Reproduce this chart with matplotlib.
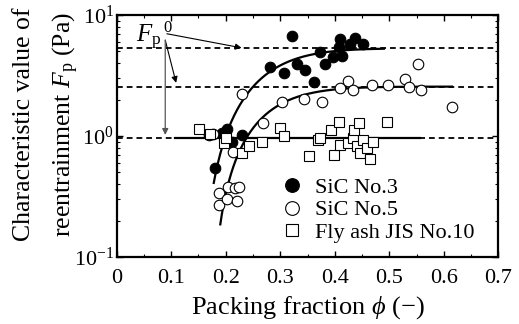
import numpy as np
import matplotlib
matplotlib.use("Agg")
import matplotlib.pyplot as plt

plt.rcParams['font.family'] = ['Liberation Serif', 'DejaVu Serif']
plt.rcParams['mathtext.fontset'] = 'custom'
plt.rcParams['mathtext.rm'] = 'Liberation Serif'
plt.rcParams['mathtext.it'] = 'Liberation Serif:italic'

# ---- data ----
sic3_phi = [0.170, 0.180, 0.193, 0.202, 0.211, 0.229, 0.281, 0.306, 0.321, 0.330,
            0.346, 0.361, 0.373, 0.382, 0.397, 0.407, 0.410, 0.413, 0.428, 0.437, 0.451]
sic3_F = [1.02, 0.54, 1.05, 1.14, 0.90, 1.02, 3.74, 3.34, 6.74, 3.91,
          3.51, 2.81, 4.98, 3.91, 4.52, 5.47, 6.30, 4.58, 5.75, 6.40, 5.75]

sic5_phi = [0.177, 0.188, 0.188, 0.205, 0.202, 0.214, 0.217, 0.221, 0.225, 0.229,
            0.269, 0.303, 0.344, 0.376, 0.410, 0.425, 0.433, 0.468, 0.497, 0.529,
            0.536, 0.553, 0.558, 0.615]
sic5_F = [1.03, 0.336, 0.27, 0.38, 0.30, 0.74, 0.373, 0.29, 0.376, 2.21,
          1.27, 1.92, 2.01, 1.92, 2.48, 2.86, 2.40, 2.64, 2.64, 2.96,
          2.56, 3.93, 2.40, 1.73]

ash_phi = [0.151, 0.171, 0.196, 0.201, 0.230, 0.242, 0.266, 0.299, 0.306, 0.353,
           0.370, 0.373, 0.394, 0.399, 0.408, 0.410, 0.425, 0.434, 0.436, 0.441,
           0.445, 0.446, 0.452, 0.459, 0.465, 0.470, 0.495]
ash_F = [1.14, 1.03, 0.87, 0.96, 0.72, 0.82, 0.90, 1.16, 1.00, 0.68,
         0.93, 0.96, 1.12, 0.69, 1.30, 0.85, 0.87, 0.97, 1.12, 0.82,
         1.27, 0.73, 0.93, 0.79, 0.65, 0.90, 1.30]

# plateau values F_p^0 and fit parameters (phi0, c, n, phi_start, phi_end)
Fp0_sic3 = 5.3
Fp0_sic5 = 2.56
Fp0_ash = 0.97
fit_sic3 = (0.150, 0.129, 1.65, 0.178, 0.49)
fit_sic5 = (0.170, 0.112, 1.50, 0.190, 0.615)
ash_solid = (0.107, 0.557)

labels = ["SiC No.3", "SiC No.5", "Fly ash JIS No.10"]


def model(phi, A, phi0, c, n):
    return A * (1 - np.exp(-((phi - phi0) / c) ** n))


fig = plt.figure(figsize=(5.19, 3.24), dpi=100)
ax = fig.add_axes([0.2249, 0.2068, 0.7352, 0.7469])

dash = (0, (3.2, 2.2))
for F0 in (Fp0_sic3, Fp0_sic5, Fp0_ash):
    ax.plot([0, 0.7], [F0, F0], color='black', lw=1.3, ls=dash, zorder=1)

for A, (p0, c, n, s, e) in ((Fp0_sic3, fit_sic3), (Fp0_sic5, fit_sic5)):
    ph = np.linspace(s, e, 300)
    ax.plot(ph, model(ph, A, p0, c, n), color='black', lw=1.6, zorder=2)
ax.plot(ash_solid, [Fp0_ash, Fp0_ash], color='black', lw=1.6, zorder=2)

h1, = ax.plot(sic3_phi, sic3_F, 'o', ms=7.6, mfc='black', mec='black', mew=0.8, ls='none', zorder=3)
h2, = ax.plot(sic5_phi, sic5_F, 'o', ms=7.6, mfc='white', mec='black', mew=0.8, ls='none', zorder=3)
h3, = ax.plot(ash_phi, ash_F, 's', ms=6.8, mfc='white', mec='black', mew=0.8, ls='none', zorder=3)

# F_p^0 annotation
ax.text(0.036, 5.9, r'$F_{\mathrm{p}}$', fontsize=18, ha='left', va='baseline')
ax.text(0.085, 7.3, '0', fontsize=12, ha='left', va='baseline')
ax.annotate('', xy=(0.229, Fp0_sic3 * 1.01), xytext=(0.092, 7.0),
            arrowprops=dict(arrowstyle='-|>', color='black', lw=0.8,
                            mutation_scale=9, shrinkA=0, shrinkB=0))
ax.annotate('', xy=(0.109, 2.75), xytext=(0.089, 6.2),
            arrowprops=dict(arrowstyle='-|>', color='black', lw=0.8,
                            mutation_scale=9, shrinkA=0, shrinkB=0))
ax.annotate('', xy=(0.089, 1.02), xytext=(0.089, 6.2),
            arrowprops=dict(arrowstyle='-|>', color='#555555', lw=0.9,
                            mutation_scale=9, shrinkA=0, shrinkB=0))

ax.set_xlim(0, 0.7)
ax.set_yscale('log')
ax.set_ylim(0.1, 10)
ax.set_xticks(np.arange(0, 0.71, 0.1))
ax.set_xticklabels(['0', '0.1', '0.2', '0.3', '0.4', '0.5', '0.6', '0.7'])
ax.set_xticks(np.arange(0.05, 0.7, 0.1), minor=True)
ax.set_yticks([0.1, 1, 10])
ax.set_yticklabels([r'$10^{-1}$', r'$10^{0}$', r'$10^{1}$'])

ax.tick_params(which='both', direction='in', top=True, right=True, labelsize=16)
ax.tick_params(which='major', length=4, width=1.0)
ax.tick_params(axis='x', which='major', pad=9)
ax.tick_params(axis='y', which='major', pad=2)
ax.tick_params(which='minor', length=2.5, width=0.8)
for sp in ax.spines.values():
    sp.set_linewidth(1.6)

ax.set_xlabel(r'Packing fraction $\phi$ ($-$)', fontsize=19)
ax.xaxis.set_label_coords(0.5, -0.152)
ax.set_ylabel('Characteristic value of\n' + r'reentrainment $F_{\mathrm{p}}$ (Pa)',
              fontsize=18.5, linespacing=1.75)
ax.yaxis.set_label_coords(-0.094, 0.548)

leg = ax.legend([h1, h2, h3], labels, loc='upper left', bbox_to_anchor=(0.392, 0.395),
                frameon=False, fontsize=16, markerscale=1.3, handlelength=0.9,
                handletextpad=0.6, labelspacing=0.1, borderpad=0.2)

fig.savefig('out.png', dpi=100)
